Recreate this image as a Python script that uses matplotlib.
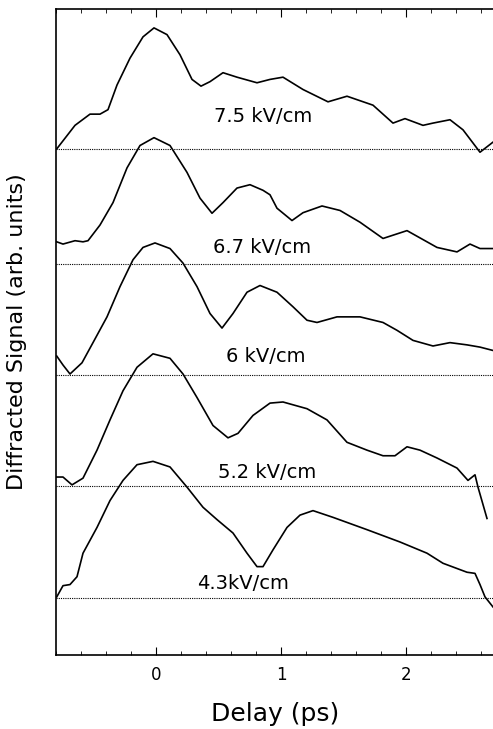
import numpy as np
import matplotlib
matplotlib.use('Agg')
import matplotlib.pyplot as plt
from matplotlib.ticker import MultipleLocator

# Traces: delay (ps) and signal above each baseline (arb. units)
d75 = [-0.794, -0.648, -0.528, -0.448, -0.384, -0.312, -0.208, -0.104, -0.016, 0.088, 0.192, 0.288,
       0.36, 0.432, 0.536, 0.648, 0.808, 0.912, 1.016, 1.176, 1.376, 1.528, 1.736, 1.896, 1.992,
       2.136, 2.216, 2.352, 2.456, 2.592, 2.696]
s75 = [0.0, 0.21, 0.31, 0.31, 0.35, 0.57, 0.81, 1.0, 1.08, 1.02, 0.84, 0.62,
       0.56, 0.6, 0.68, 0.64, 0.59, 0.62, 0.64, 0.53, 0.42, 0.47, 0.39, 0.23, 0.27,
       0.21, 0.23, 0.26, 0.17, -0.03, 0.06]

d67 = [-0.794, -0.744, -0.648, -0.584, -0.544, -0.448, -0.344, -0.232, -0.128, -0.016, 0.112, 0.248,
       0.352, 0.448, 0.536, 0.648, 0.752, 0.856, 0.912, 0.968, 1.088, 1.176, 1.328, 1.472, 1.632,
       1.816, 2.008, 2.168, 2.248, 2.408, 2.512, 2.592, 2.696]
s67 = [0.2, 0.18, 0.21, 0.2, 0.21, 0.35, 0.55, 0.86, 1.06, 1.13, 1.06, 0.82,
       0.59, 0.455, 0.55, 0.68, 0.71, 0.66, 0.62, 0.5, 0.39, 0.46, 0.52, 0.48, 0.375,
       0.23, 0.3, 0.2, 0.15, 0.11, 0.18, 0.14, 0.14]

d6 = [-0.794, -0.744, -0.688, -0.592, -0.504, -0.392, -0.288, -0.184, -0.104, -0.008, 0.112, 0.216,
      0.328, 0.432, 0.528, 0.616, 0.728, 0.832, 0.968, 1.096, 1.208, 1.288, 1.448, 1.632, 1.816,
      1.928, 2.056, 2.216, 2.352, 2.488, 2.592, 2.696]
s6 = [0.17, 0.09, 0.01, 0.11, 0.29, 0.52, 0.79, 1.03, 1.14, 1.18, 1.13, 1.0,
      0.79, 0.55, 0.42, 0.55, 0.74, 0.8, 0.74, 0.61, 0.49, 0.47, 0.52, 0.52, 0.47,
      0.4, 0.31, 0.26, 0.29, 0.27, 0.25, 0.22]

d52 = [-0.794, -0.744, -0.672, -0.584, -0.472, -0.368, -0.264, -0.152, -0.024, 0.112, 0.216, 0.328,
       0.456, 0.576, 0.656, 0.776, 0.912, 1.016, 1.208, 1.368, 1.528, 1.688, 1.816, 1.912, 2.008,
       2.112, 2.248, 2.408, 2.496, 2.552, 2.576, 2.648]
s52 = [0.08, 0.08, 0.01, 0.07, 0.32, 0.59, 0.85, 1.06, 1.18, 1.14, 1.0, 0.79,
       0.54, 0.43, 0.47, 0.63, 0.74, 0.75, 0.69, 0.59, 0.39, 0.32, 0.27, 0.27, 0.35,
       0.32, 0.25, 0.16, 0.05, 0.1, -0.01, -0.29]

d43 = [-0.794, -0.744, -0.688, -0.632, -0.584, -0.472, -0.368, -0.264, -0.152, -0.024, 0.112, 0.248,
       0.376, 0.488, 0.616, 0.728, 0.808, 0.856, 0.936, 1.048, 1.152, 1.256, 1.416, 1.688, 1.952,
       2.168, 2.296, 2.488, 2.552, 2.592, 2.632, 2.696]
s43 = [0.01, 0.11, 0.12, 0.19, 0.4, 0.63, 0.87, 1.05, 1.19, 1.22, 1.17, 0.99,
       0.81, 0.7, 0.58, 0.4, 0.28, 0.28, 0.43, 0.63, 0.74, 0.78, 0.72, 0.61, 0.5,
       0.4, 0.31, 0.23, 0.22, 0.12, 0.01, -0.08]

fields = ['7.5 kV/cm', '6.7 kV/cm', '6 kV/cm', '5.2 kV/cm', '4.3kV/cm']
offsets = [4.01, 2.98, 1.99, 1.0, 0.0]
delays = [d75, d67, d6, d52, d43]
signals = [s75, s67, s6, s52, s43]
label_x = [0.86, 0.85, 0.88, 0.89, 0.70]
label_dy = [0.29, 0.15, 0.17, 0.12, 0.125]

fig = plt.figure(figsize=(4.93, 7.29), dpi=100)
ax = fig.add_axes([0.1136, 0.1015, 0.8874, 0.8862])

for k in range(5):
    ax.axhline(offsets[k], color='k', lw=0.8, ls=(0, (1, 1)))
    ax.plot(delays[k], np.array(signals[k]) + offsets[k], color='k', lw=1.2)
    ax.text(label_x[k], offsets[k] + label_dy[k], fields[k], ha='center', va='center', fontsize=14)

ax.set_xlim(-0.8, 2.7)
ax.set_ylim(-0.509, 5.259)
ax.xaxis.set_major_locator(MultipleLocator(1))
ax.xaxis.set_minor_locator(MultipleLocator(0.2))
ax.tick_params(axis='x', which='both', direction='in', top=True, labelsize=12, pad=8)
ax.tick_params(axis='x', which='major', length=6)
ax.tick_params(axis='x', which='minor', length=3)
ax.set_yticks([])
ax.spines['right'].set_visible(False)
for s in ['left', 'top', 'bottom']:
    ax.spines[s].set_linewidth(1.2)

ax.set_xlabel('Delay (ps)', fontsize=18, labelpad=13)
ax.set_ylabel('Diffracted Signal (arb. units)', fontsize=16, labelpad=21)

fig.savefig('out.png', dpi=100)
